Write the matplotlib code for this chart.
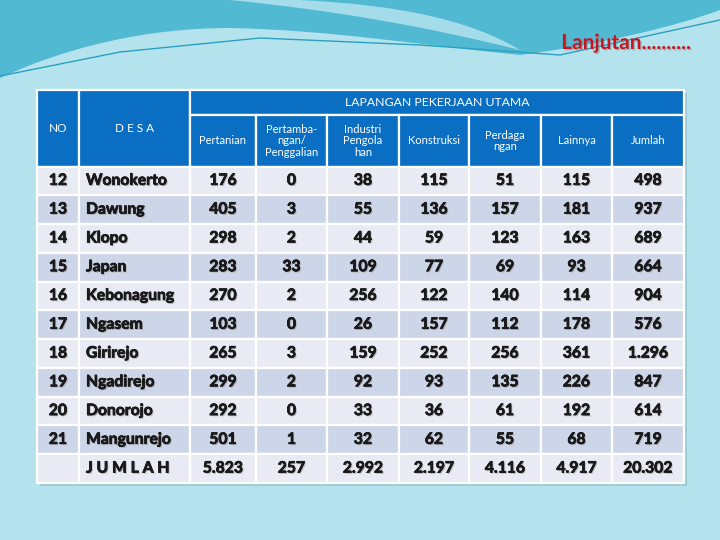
import matplotlib
matplotlib.use("Agg")
import matplotlib.pyplot as plt
import matplotlib.patches as mpatches
import matplotlib.patheffects as pe
from matplotlib.path import Path

# Table data
no = [12, 13, 14, 15, 16, 17, 18, 19, 20, 21]
desa = ["Wonokerto", "Dawung", "Klopo", "Japan", "Kebonagung", "Ngasem",
        "Girirejo", "Ngadirejo", "Donorojo", "Mangunrejo"]
pertanian = [176, 405, 298, 283, 270, 103, 265, 299, 292, 501]
pertambangan = [0, 3, 2, 33, 2, 0, 3, 2, 0, 1]
industri = [38, 55, 44, 109, 256, 26, 159, 92, 33, 32]
konstruksi = [115, 136, 59, 77, 122, 157, 252, 93, 36, 62]
perdagangan = [51, 157, 123, 69, 140, 112, 256, 135, 61, 55]
lainnya = [115, 181, 163, 93, 114, 178, 361, 226, 192, 68]
jumlah = [498, 937, 689, 664, 904, 576, 1296, 847, 614, 719]
totals = [5823, 257, 2992, 2197, 4116, 4917, 20302]

sub_headers = ["Pertanian", "Pertamba-\nngan/\nPenggalian", "Industri\nPengola\nhan",
               "Konstruksi", "Perdaga\nngan", "Lainnya", "Jumlah"]
group_header = "LAPANGAN PEKERJAAN UTAMA"
title = "Lanjutan.........."


def fmt(v):
    return f"{v:,}".replace(",", ".")


plt.rcParams["font.family"] = ["Lato", "DejaVu Sans"]

fig = plt.figure(figsize=(7.2, 5.4), dpi=100)
ax = fig.add_axes([0, 0, 1, 1])
ax.set_xlim(0, 720)
ax.set_ylim(540, 0)
ax.axis("off")

# Background: light water colour with a darker wave on top
ax.add_patch(mpatches.Rectangle((0, 0), 720, 540, color="#b4e3ed", zorder=0))
wave = Path(
    [(0, 0), (0, 78), (60, 50), (140, 28), (230, 28), (330, 30), (420, 45),
     (520, 55), (600, 45), (680, 25), (720, 10), (720, 0), (0, 0)],
    [Path.MOVETO, Path.LINETO, Path.CURVE4, Path.CURVE4, Path.CURVE4,
     Path.CURVE4, Path.CURVE4, Path.CURVE4, Path.CURVE4, Path.CURVE4,
     Path.CURVE4, Path.LINETO, Path.CLOSEPOLY])
ax.add_patch(mpatches.PathPatch(wave, facecolor="#52b9d3", edgecolor="none", zorder=1))
streak = Path([(230, 0), (330, 10), (420, 25), (520, 50), (470, 20), (400, 5), (300, 0), (230, 0)],
              [Path.MOVETO, Path.CURVE4, Path.CURVE4, Path.CURVE4,
               Path.CURVE4, Path.CURVE4, Path.CURVE4, Path.CLOSEPOLY])
ax.add_patch(mpatches.PathPatch(streak, facecolor="#b9e6ef", edgecolor="none", alpha=0.8, zorder=1))
ax.plot([0, 120, 260, 420, 560, 720], [76, 52, 38, 45, 55, 20], color="#2aa0c0", lw=1, zorder=1)

ax.text(690, 43, title, color="#c8141e", fontsize=15, fontweight="bold", ha="right", va="center",
        zorder=5, path_effects=[pe.withSimplePatchShadow(offset=(1, -1), shadow_rgbFace="#777777", alpha=0.4)])

# Table layout (pixel coordinates)
col_edges = [37, 79, 190, 256, 327, 399, 469, 541, 612, 684]
top, head1, head2 = 90, 114.5, 166.5
bottom = 483
n_rows = len(no) + 1
row_h = (bottom - head2) / n_rows
blue = "#0a6fc2"
light = "#e8ebf3"
dark = "#cdd5e8"
edge_kw = dict(edgecolor="white", linewidth=1.6, zorder=3)

# soft shadow behind the table
ax.add_patch(mpatches.Rectangle((col_edges[0] + 3, top + 3), col_edges[-1] - col_edges[0], bottom - top,
                                facecolor="#6a9fb0", alpha=0.35, edgecolor="none", zorder=2))


def cell(x0, x1, y0, y1, color):
    ax.add_patch(mpatches.Rectangle((x0, y0), x1 - x0, y1 - y0, facecolor=color, **edge_kw))


body_fx = [pe.withSimplePatchShadow(offset=(0.9, -0.9), shadow_rgbFace="#888888", alpha=0.5),
           pe.withStroke(linewidth=0.5, foreground="#1a1a1a")]

# header
cell(col_edges[0], col_edges[1], top, head2, blue)
cell(col_edges[1], col_edges[2], top, head2, blue)
cell(col_edges[2], col_edges[-1], top, head1, blue)
ax.text((col_edges[0] + col_edges[1]) / 2, 128, "NO", color="white", fontsize=8.5, ha="center", va="center", zorder=4)
ax.text((col_edges[1] + col_edges[2]) / 2, 128, "D E S A", color="white", fontsize=8.5, ha="center", va="center", zorder=4)
ax.text((col_edges[2] + col_edges[-1]) / 2, (top + head1) / 2, group_header, color="white", fontsize=8.8,
        ha="center", va="center", zorder=4)
for i, label in enumerate(sub_headers):
    x0, x1 = col_edges[i + 2], col_edges[i + 3]
    cell(x0, x1, head1, head2, blue)
    ax.text((x0 + x1) / 2, (head1 + head2) / 2 + 0.5, label, color="white", fontsize=8, ha="center", va="center",
            linespacing=1.05, zorder=4)

# body rows
columns = [pertanian, pertambangan, industri, konstruksi, perdagangan, lainnya, jumlah]
for r in range(n_rows):
    y0 = head2 + r * row_h
    y1 = y0 + row_h
    yc = (y0 + y1) / 2
    color = dark if r % 2 == 1 else light
    for c in range(len(col_edges) - 1):
        cell(col_edges[c], col_edges[c + 1], y0, y1, color)
    if r < len(no):
        first = str(no[r])
        name = desa[r]
        values = [fmt(col[r]) for col in columns]
    else:
        first = ""
        name = "J U M L A H"
        values = [fmt(v) for v in totals]
    txt_kw = dict(color="#1a1a1a", fontsize=11.3, fontweight="bold", va="center", zorder=4, path_effects=body_fx)
    ax.text((col_edges[0] + col_edges[1]) / 2, yc, first, ha="center", **txt_kw)
    ax.text(col_edges[1] + 7, yc, name, ha="left", **txt_kw)
    for c, v in enumerate(values):
        ax.text((col_edges[c + 2] + col_edges[c + 3]) / 2, yc, v, ha="center", **txt_kw)

fig.savefig("out.png", dpi=100)
